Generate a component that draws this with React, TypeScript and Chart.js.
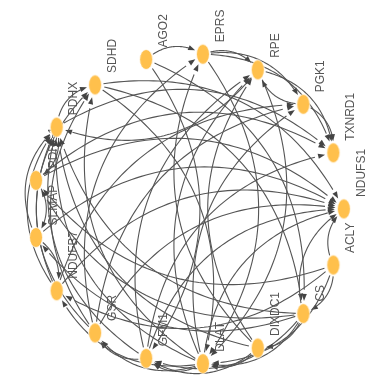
import React, { useEffect, useRef } from 'react';
import { Chart, registerables } from 'chart.js';

Chart.register(...registerables);

// Nodes in layout order (circular layout, counter-clockwise from the east)
const nodeNames: string[] = [
  'NDUFS1', 'TXNRD1', 'PGK1', 'RPE', 'EPRS', 'AGO2', 'SDHD', 'PDHX', 'PDRG1',
  'SLMAP', 'NDUFB7', 'GSR', 'GFM1', 'DLAT', 'DIXDC1', 'CS', 'ACLY',
];

// Directed edges: source -> target
const edgeSources: string[] = [
  'AGO2', 'AGO2', 'AGO2',
  'EPRS', 'EPRS', 'EPRS', 'EPRS',
  'RPE', 'RPE', 'RPE',
  'PGK1', 'PGK1',
  'SDHD', 'SDHD', 'SDHD',
  'PDHX', 'PDHX', 'PDHX',
  'PDRG1', 'PDRG1', 'PDRG1',
  'SLMAP', 'SLMAP', 'SLMAP',
  'NDUFB7', 'NDUFB7', 'NDUFB7', 'NDUFB7',
  'GSR', 'GSR', 'GSR', 'GSR', 'GSR',
  'GFM1', 'GFM1', 'GFM1', 'GFM1', 'GFM1',
  'DLAT', 'DLAT', 'DLAT', 'DLAT', 'DLAT', 'DLAT', 'DLAT', 'DLAT',
  'DIXDC1', 'DIXDC1', 'DIXDC1', 'DIXDC1', 'DIXDC1',
  'CS', 'CS', 'CS', 'CS', 'CS', 'CS', 'CS',
  'ACLY', 'ACLY', 'ACLY', 'ACLY', 'ACLY',
];
const edgeTargets: string[] = [
  'EPRS', 'GFM1', 'CS',
  'RPE', 'PGK1', 'TXNRD1', 'DLAT',
  'TXNRD1', 'DLAT', 'PDHX',
  'RPE', 'TXNRD1',
  'NDUFS1', 'DLAT', 'CS',
  'TXNRD1', 'PDRG1', 'SDHD',
  'NDUFS1', 'TXNRD1', 'SLMAP',
  'PDHX', 'NDUFS1', 'NDUFB7',
  'PDHX', 'NDUFS1', 'PGK1', 'SDHD',
  'PDHX', 'NDUFS1', 'PGK1', 'SDHD', 'EPRS',
  'PDHX', 'NDUFS1', 'TXNRD1', 'RPE', 'GSR',
  'PDHX', 'NDUFS1', 'PGK1', 'RPE', 'GSR', 'GFM1', 'SDHD', 'NDUFB7',
  'DLAT', 'PDHX', 'EPRS', 'RPE', 'GFM1',
  'DLAT', 'PDHX', 'GFM1', 'DIXDC1', 'NDUFS1', 'PDRG1', 'SLMAP',
  'NDUFS1', 'CS', 'DLAT', 'PDRG1', 'NDUFB7',
];

const CURVE = 0.36;
const NODE_RX = 6.5;
const NODE_RY = 10;
const NODE_COLOR = '#FFC04C';
const EDGE_COLOR = '#555555';
const LABEL_COLOR = '#555555';

function makeNodeImage(): HTMLCanvasElement {
  const c = document.createElement('canvas');
  c.width = 16;
  c.height = 23;
  const g = c.getContext('2d')!;
  g.beginPath();
  g.ellipse(8, 11.5, NODE_RX, NODE_RY, 0, 0, Math.PI * 2);
  g.fillStyle = NODE_COLOR;
  g.fill();
  g.lineWidth = 0.8;
  g.strokeStyle = '#FFFFFF';
  g.stroke();
  return c;
}

const networkPlugin = {
  id: 'network',
  beforeDatasetsDraw(chart: any) {
    const ctx: CanvasRenderingContext2D = chart.ctx;
    const meta = chart.getDatasetMeta(0);
    const pos = meta.data.map((el: any) => ({ x: el.x, y: el.y }));
    const idx = (n: string) => nodeNames.indexOf(n);

    // labels
    ctx.save();
    ctx.font = '12px "Liberation Sans", Arial, sans-serif';
    ctx.fillStyle = LABEL_COLOR;
    ctx.textAlign = 'left';
    ctx.textBaseline = 'middle';
    pos.forEach((p: any, i: number) => {
      ctx.save();
      ctx.translate(p.x + 17.5, p.y - 12);
      ctx.rotate(-Math.PI / 2);
      ctx.fillText(nodeNames[i], 0, 0);
      ctx.restore();
    });
    ctx.restore();

    // edges
    ctx.save();
    ctx.strokeStyle = EDGE_COLOR;
    ctx.fillStyle = '#444444';
    ctx.lineWidth = 1.1;
    const inside = (px: number, py: number, c: any, pad: number) => {
      const ex = (px - c.x) / (NODE_RX + pad);
      const ey = (py - c.y) / (NODE_RY + pad);
      return ex * ex + ey * ey < 1;
    };
    for (let k = 0; k < edgeSources.length; k++) {
      const a = pos[idx(edgeSources[k])];
      const b = pos[idx(edgeTargets[k])];
      if (!a || !b) continue;
      const dx = b.x - a.x;
      const dy = b.y - a.y;
      const cx = (a.x + b.x) / 2 + CURVE * dy;
      const cy = (a.y + b.y) / 2 - CURVE * dx;
      const B = (t: number) => ({
        x: (1 - t) * (1 - t) * a.x + 2 * (1 - t) * t * cx + t * t * b.x,
        y: (1 - t) * (1 - t) * a.y + 2 * (1 - t) * t * cy + t * t * b.y,
      });
      const N = 200;
      let t0 = 0;
      for (let i = 0; i <= N; i++) {
        const p = B(i / N);
        if (!inside(p.x, p.y, a, 1)) { t0 = i / N; break; }
      }
      let t1 = 1;
      for (let i = N; i >= 0; i--) {
        const p = B(i / N);
        if (!inside(p.x, p.y, b, 1.5)) { t1 = i / N; break; }
      }
      const tip = B(t1);
      const dtx = 2 * (1 - t1) * (cx - a.x) + 2 * t1 * (b.x - cx);
      const dty = 2 * (1 - t1) * (cy - a.y) + 2 * t1 * (b.y - cy);
      const dl = Math.hypot(dtx, dty) || 1;
      const ux = dtx / dl;
      const uy = dty / dl;
      const headLen = 7;
      const headW = 2.6;
      ctx.beginPath();
      const steps = 60;
      let started = false;
      for (let i = 0; i <= steps; i++) {
        const t = t0 + (t1 - t0) * (i / steps);
        const p = B(t);
        if (Math.hypot(p.x - tip.x, p.y - tip.y) < headLen - 1 && i > 0) {
          break;
        }
        if (!started) { ctx.moveTo(p.x, p.y); started = true; } else ctx.lineTo(p.x, p.y);
      }
      ctx.stroke();
      const bx = tip.x - ux * headLen;
      const by = tip.y - uy * headLen;
      ctx.beginPath();
      ctx.moveTo(tip.x, tip.y);
      ctx.lineTo(bx - uy * headW, by + ux * headW);
      ctx.lineTo(bx + uy * headW, by - ux * headW);
      ctx.closePath();
      ctx.fill();
    }
    ctx.restore();
  },
};

export default function App() {
  const ref = useRef<HTMLCanvasElement | null>(null);
  useEffect(() => {
    document.body.style.margin = '0';
    const canvas = ref.current!;
    const img = makeNodeImage();
    const n = nodeNames.length;
    const points = nodeNames.map((_, i) => ({
      x: Math.cos((2 * Math.PI * i) / n),
      y: Math.sin((2 * Math.PI * i) / n),
    }));
    const chart = new Chart(canvas, {
      type: 'scatter',
      data: {
        datasets: [
          {
            data: points,
            pointStyle: img as any,
            pointRadius: 7,
            showLine: false,
          },
        ],
      },
      options: {
        animation: false,
        responsive: false,
        devicePixelRatio: 1,
        events: [],
        layout: { padding: 0 },
        plugins: { legend: { display: false }, tooltip: { enabled: false } },
        scales: {
          x: { type: 'linear', display: false, min: -1.1636, max: 1.1944 },
          y: { type: 'linear', display: false, min: -1.1204, max: 1.2932 },
        },
      },
      plugins: [networkPlugin],
    });
    return () => chart.destroy();
  }, []);
  return (
    <div style={{ width: 382, height: 391, background: '#ffffff' }}>
      <canvas ref={ref} width={382} height={391} />
    </div>
  );
}
